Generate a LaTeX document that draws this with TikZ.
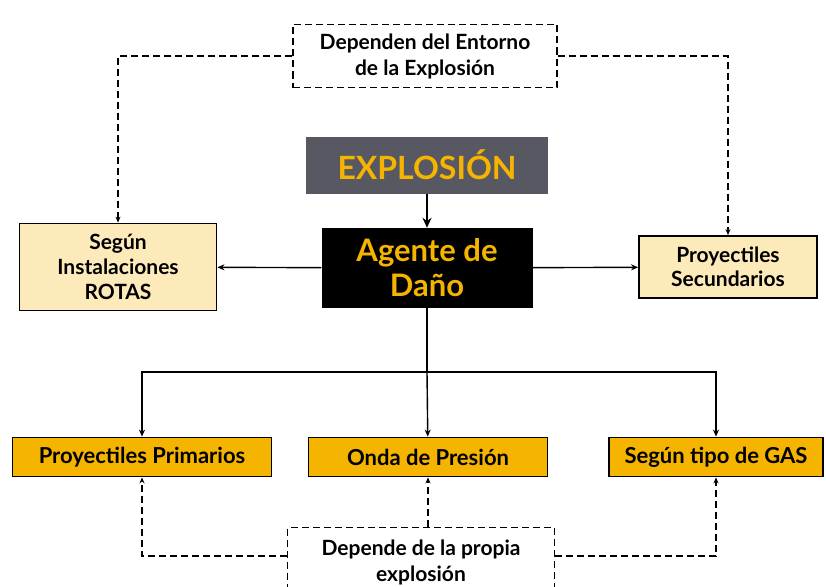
\documentclass[tikz,border=0pt]{standalone}
\usepackage{fontspec}
\setmainfont{Lato}
\usepackage{xcolor}
\usetikzlibrary{arrows.meta}
\definecolor{grisexp}{RGB}{88,88,98}
\definecolor{amarillo}{RGB}{245,180,0}
\definecolor{crema}{RGB}{253,234,186}

\begin{document}
\begin{tikzpicture}[x=1pt,y=-1pt,
		caja/.style={draw=black,line width=1.8pt,align=center,inner sep=0pt,font=\bfseries\fontsize{22}{25}\selectfont},
		nota/.style={draw=black,dash pattern=on 7pt off 4pt,line width=1.4pt,fill=white,align=center,inner sep=0pt,font=\bfseries\fontsize{21}{26}\selectfont},
		flecha/.style={-{Stealth[length=7pt,width=6pt]},line width=1.4pt},
		punteada/.style={dash pattern=on 7pt off 4pt,line width=1.4pt,-{Stealth[length=6pt,width=5pt]}}]
			\useasboundingbox (0,0) rectangle (826,586);
			\node[nota,minimum width=264,minimum height=63] (entorno) at (425,56) {Dependen del Entorno\\de la Explosi\'on};
			\node[draw=none,fill=grisexp,minimum width=242,minimum height=57,font=\bfseries\fontsize{32}{34}\selectfont,text=amarillo] (explosion) at (427,165) {EXPLOSI\'ON};
			\node[fill=black,minimum width=211,minimum height=80,align=center,inner sep=0pt,font=\bfseries\fontsize{31}{35}\selectfont,text=amarillo] (agente) at (427,268) {Agente de\\Da\~no};
			\node[caja,fill=crema,minimum width=197,minimum height=87,font=\bfseries\fontsize{21}{25}\selectfont] (rotas) at (118,267) {Seg\'un\\Instalaciones\\ROTAS};
			\node[caja,fill=crema,minimum width=178,minimum height=62,font=\bfseries\fontsize{21}{24}\selectfont] (secundarios) at (728,267) {Proyectiles\\Secundarios};
			\node[caja,fill=amarillo,minimum width=259,minimum height=39] (primarios) at (142,457) {Proyectiles Primarios};
			\node[caja,fill=amarillo,minimum width=239,minimum height=39] (onda) at (428,457) {Onda de Presi\'on};
			\node[caja,fill=amarillo,minimum width=214,minimum height=39] (gas) at (716,457) {Seg\'un tipo de GAS};
			\node[nota,minimum width=267,minimum height=70,anchor=north] (propia) at (421,527) {Depende de la propia\\explosi\'on};
			\coordinate (rama) at (427,372);
			% flechas solidas
			\draw[-{Stealth[length=10pt,width=9pt]},line width=2.6pt] (explosion) -- (agente);
			\draw[flecha] (agente) -- (rotas);
			\draw[flecha] (agente) -- (secundarios);
			\draw[line width=1.4pt] (agente) -- (rama);
			\draw[flecha] (rama) -| (primarios);
			\draw[flecha] (rama) -- (onda);
			\draw[flecha] (rama) -| (gas);
			% flechas punteadas
			\draw[punteada] (entorno) -| (rotas);
			\draw[punteada] (entorno) -| (secundarios);
			\draw[punteada] (propia.north -| onda) -- (onda);
			\draw[punteada] (propia.west |- 0,556) -| (primarios);
			\draw[punteada] (propia.east |- 0,556) -| (gas);
		\end{tikzpicture}
\end{document}
